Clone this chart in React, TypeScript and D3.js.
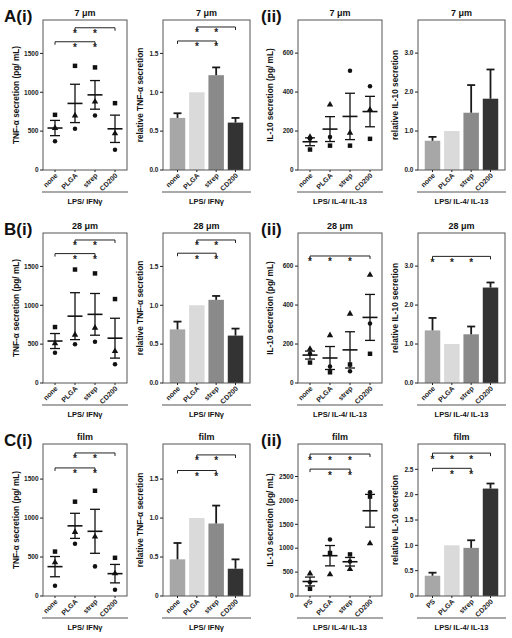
import React from "react";
import * as d3 from "d3";

// ---------- categories / labels ----------
const catsI = ["none", "PLGA", "strep", "CD200"];
const catsFilmII = ["PS", "PLGA", "strep", "CD200"];
const rowTitles = ["7 μm", "28 μm", "film"];
const rowLabels = ["A(i)", "B(i)", "C(i)"];
const yLabels = ["TNF-α secretion (pg/ mL)", "relative TNF-α secretion", "IL-10 secretion (pg/ mL)", "relative IL-10 secretion"];
const groupLabels = ["LPS/ IFNγ", "LPS/ IFNγ", "LPS/ IL-4/ IL-13", "LPS/ IL-4/ IL-13"];

// ---------- TNF-α scatter (pg/mL), three donors ----------
const tnf7Sq = [710, 1340, 1320, 860];
const tnf7Tri = [540, 700, 880, 470];
const tnf7Cir = [370, 530, 700, 260];
const tnf28Sq = [720, 1460, 1410, 1080];
const tnf28Tri = [510, 620, 710, 410];
const tnf28Cir = [390, 500, 530, 240];
const tnfFilmSq = [570, 1210, 1350, 490];
const tnfFilmTri = [430, 820, 760, 290];
const tnfFilmCir = [130, 670, 380, 80];

// ---------- IL-10 scatter (pg/mL) ----------
const il7Sq = [105, 125, 125, 160];
const il7Tri = [170, 335, 190, 310];
const il7Cir = [160, 170, 510, 430];
const il28Sq = [105, 55, 95, 150];
const il28Tri = [175, 245, 355, 555];
const il28Cir = [150, 85, 60, 305];
const ilFilmSq = [150, 900, 870, 2080];
const ilFilmTri = [470, 450, 560, 1100];
const ilFilmCir = [290, 1180, 720, 2170];

// ---------- relative secretion bars ----------
const relTnf7 = [0.67, 1.0, 1.22, 0.61];
const relTnf7Err = [0.06, 0, 0.1, 0.06];
const relTnf28 = [0.69, 1.0, 1.07, 0.61];
const relTnf28Err = [0.1, 0, 0.05, 0.09];
const relTnfFilm = [0.47, 1.0, 0.93, 0.35];
const relTnfFilmErr = [0.21, 0, 0.23, 0.12];
const relIl7 = [0.75, 1.0, 1.47, 1.83];
const relIl7Err = [0.1, 0, 0.71, 0.75];
const relIl28 = [1.35, 1.0, 1.25, 2.45];
const relIl28Err = [0.32, 0, 0.2, 0.13];
const relIlFilm = [0.4, 1.0, 0.95, 2.12];
const relIlFilmErr = [0.06, 0, 0.15, 0.1];

// ---------- axis ticks ----------
const ticksTnf = [0, 500, 1000, 1500];
const ticksRel = [0, 0.5, 1.0, 1.5];
const ticksIl = [0, 200, 400, 600];
const ticksIlFilm = [0, 500, 1000, 1500, 2000, 2500];
const ticksRelIl = [0, 1, 2, 3];
const ticksRelIlFilm = [0, 0.5, 1.0, 1.5, 2.0, 2.5];

// ---------- significance brackets [from, to, level, starred categories] ----------
type Sig = [number, number, number, number[]];
const sigTnf7: Sig[] = [[0, 2, 1650, [1, 2]], [1, 3, 1830, [1, 2]]];
const sigRel7: Sig[] = [[0, 2, 1.66, [1, 2]], [1, 3, 1.84, [1, 2]]];
const sigTnf28: Sig[] = [[0, 2, 1665, [1, 2]], [1, 3, 1840, [1, 2]]];
const sigRel28: Sig[] = [[0, 2, 1.67, [1, 2]], [1, 3, 1.84, [1, 2]]];
const sigIl28: Sig[] = [[0, 3, 652, [0, 1, 2]]];
const sigRelIl28: Sig[] = [[0, 3, 3.25, [0, 1, 2]]];
const sigTnfFilm: Sig[] = [[0, 2, 1643, [1, 2]], [1, 3, 1835, [1, 2]]];
const sigRelFilm: Sig[] = [[0, 2, 1.61, [1, 2]], [1, 3, 1.81, [1, 2]]];
const sigIlFilm: Sig[] = [[0, 3, 2970, [0, 1, 2]], [0, 2, 2655, [1, 2]]];
const sigRelIlFilm: Sig[] = [[0, 3, 2.82, [0, 1, 2]], [0, 2, 2.52, [1, 2]]];

const barColors = ["#a7a7a7", "#dadada", "#8a8a8a", "#333333"];

// ---------- layout ----------
const COLS = [
  { x0: 43, w: 84, lab: 24 },
  { x0: 163, w: 87, lab: 20 },
  { x0: 298, w: 84, lab: 25 },
  { x0: 418, w: 87, lab: 20 },
];
const ROWS = [
  { y0: 20, h: 150 },
  { y0: 233, h: 150 },
  { y0: 444, h: 152 },
];

interface PanelSpec {
  kind: "scatter" | "bar";
  row: number;
  col: number;
  max: number;
  ticks: number[];
  fmt: (v: number) => string;
  cats: string[];
  sig: Sig[];
  sq?: number[];
  tri?: number[];
  cir?: number[];
  vals?: number[];
  errs?: number[];
}

const fInt = (v: number) => d3.format("d")(v);
const f1 = (v: number) => d3.format(".1f")(v);
const f1z = (v: number) => (v === 0 ? "0" : d3.format(".1f")(v));

const panels: PanelSpec[] = [
  { kind: "scatter", row: 0, col: 0, max: 1930, ticks: ticksTnf, fmt: fInt, cats: catsI, sig: sigTnf7, sq: tnf7Sq, tri: tnf7Tri, cir: tnf7Cir },
  { kind: "bar", row: 0, col: 1, max: 1.93, ticks: ticksRel, fmt: f1, cats: catsI, sig: sigRel7, vals: relTnf7, errs: relTnf7Err },
  { kind: "scatter", row: 0, col: 2, max: 770, ticks: ticksIl, fmt: fInt, cats: catsI, sig: [], sq: il7Sq, tri: il7Tri, cir: il7Cir },
  { kind: "bar", row: 0, col: 3, max: 3.85, ticks: ticksRelIl, fmt: f1, cats: catsI, sig: [], vals: relIl7, errs: relIl7Err },
  { kind: "scatter", row: 1, col: 0, max: 1930, ticks: ticksTnf, fmt: fInt, cats: catsI, sig: sigTnf28, sq: tnf28Sq, tri: tnf28Tri, cir: tnf28Cir },
  { kind: "bar", row: 1, col: 1, max: 1.93, ticks: ticksRel, fmt: f1, cats: catsI, sig: sigRel28, vals: relTnf28, errs: relTnf28Err },
  { kind: "scatter", row: 1, col: 2, max: 770, ticks: ticksIl, fmt: fInt, cats: catsI, sig: sigIl28, sq: il28Sq, tri: il28Tri, cir: il28Cir },
  { kind: "bar", row: 1, col: 3, max: 3.85, ticks: ticksRelIl, fmt: f1, cats: catsI, sig: sigRelIl28, vals: relIl28, errs: relIl28Err },
  { kind: "scatter", row: 2, col: 0, max: 1950, ticks: ticksTnf, fmt: fInt, cats: catsI, sig: sigTnfFilm, sq: tnfFilmSq, tri: tnfFilmTri, cir: tnfFilmCir },
  { kind: "bar", row: 2, col: 1, max: 1.95, ticks: ticksRel, fmt: f1z, cats: catsI, sig: sigRelFilm, vals: relTnfFilm, errs: relTnfFilmErr },
  { kind: "scatter", row: 2, col: 2, max: 3180, ticks: ticksIlFilm, fmt: fInt, cats: catsFilmII, sig: sigIlFilm, sq: ilFilmSq, tri: ilFilmTri, cir: ilFilmCir },
  { kind: "bar", row: 2, col: 3, max: 3.0, ticks: ticksRelIlFilm, fmt: f1z, cats: catsFilmII, sig: sigRelIlFilm, vals: relIlFilm, errs: relIlFilmErr },
];

const symSq = d3.symbol().type(d3.symbolSquare).size(20)()!;
const symTri = d3.symbol().type(d3.symbolTriangle).size(18)()!;
const symCir = d3.symbol().type(d3.symbolCircle).size(16)()!;

function Panel({ p }: { p: PanelSpec }) {
  const { x0, w, lab } = COLS[p.col];
  const { y0, h } = ROWS[p.row];
  const y1 = y0 + h;
  const y = d3.scaleLinear().domain([0, p.max]).range([y1, y0]);
  let xc: (c: string) => number;
  let marks: React.ReactNode;

  if (p.kind === "scatter") {
    const x = d3.scalePoint<string>().domain(p.cats).range([x0, x0 + w]).padding(0.6);
    xc = (c) => x(c)!;
    marks = p.cats.map((c, i) => {
      const vals = [p.sq![i], p.tri![i], p.cir![i]];
      const m = d3.mean(vals)!;
      const se = d3.deviation(vals)! / Math.sqrt(vals.length);
      const cx = x(c)!;
      return (
        <g key={c}>
          <path d={symSq} transform={`translate(${cx},${y(p.sq![i])})`} fill="#111" />
          <path d={symTri} transform={`translate(${cx},${y(p.tri![i])})`} fill="#111" />
          <path d={symCir} transform={`translate(${cx},${y(p.cir![i])})`} fill="#111" />
          <line x1={cx - 7.5} x2={cx + 7.5} y1={y(m)} y2={y(m)} stroke="#111" strokeWidth={1.6} />
          <line x1={cx} x2={cx} y1={y(m - se)} y2={y(m + se)} stroke="#111" strokeWidth={1.3} />
          <line x1={cx - 5} x2={cx + 5} y1={y(m - se)} y2={y(m - se)} stroke="#111" strokeWidth={1.3} />
          <line x1={cx - 5} x2={cx + 5} y1={y(m + se)} y2={y(m + se)} stroke="#111" strokeWidth={1.3} />
        </g>
      );
    });
  } else {
    const x = d3.scaleBand<string>().domain(p.cats).range([x0, x0 + w]).paddingInner(0.2).paddingOuter(0.35);
    xc = (c) => x(c)! + x.bandwidth() / 2;
    marks = p.cats.map((c, i) => {
      const v = p.vals![i];
      const e = p.errs![i];
      const cx = xc(c);
      return (
        <g key={c}>
          <rect x={x(c)} y={y(v)} width={x.bandwidth()} height={y1 - y(v)} fill={barColors[i]} />
          {e > 0 && (
            <g stroke="#1a1a1a" strokeWidth={1.8}>
              <line x1={cx} x2={cx} y1={y(v)} y2={y(v + e)} />
              <line x1={cx - 4} x2={cx + 4} y1={y(v + e)} y2={y(v + e)} />
            </g>
          )}
        </g>
      );
    });
  }

  const midX = x0 + w / 2;
  return (
    <g>
      {marks}
      <rect x={x0} y={y0} width={w} height={h} fill="none" stroke="#555" strokeWidth={1} />
      {p.ticks.map((t) => (
        <g key={t}>
          <line x1={x0 - 3} x2={x0} y1={y(t)} y2={y(t)} stroke="#222" strokeWidth={1} />
          <text x={x0 - 4.5} y={y(t)} dy="0.35em" textAnchor="end" fontSize={6.5} fontWeight="bold" fill="#222">
            {p.fmt(t)}
          </text>
        </g>
      ))}
      {p.cats.map((c) => (
        <g key={c}>
          <line x1={xc(c)} x2={xc(c)} y1={y1} y2={y1 + 2} stroke="#222" strokeWidth={1} />
          <text transform={`translate(${xc(c) + 3},${y1 + 6}) rotate(-45)`} textAnchor="end" fontSize={7} fontWeight="bold" fill="#222">
            {c}
          </text>
        </g>
      ))}
      {p.sig.map(([a, b, lv, st], k) => {
        const xa = xc(p.cats[a]);
        const xb = xc(p.cats[b]);
        const yy = y(lv);
        return (
          <g key={k}>
            <path d={`M${xa},${yy + 3}V${yy}H${xb}V${yy + 3}`} fill="none" stroke="#222" strokeWidth={1} />
            {st.map((s) => (
              <text key={s} x={xc(p.cats[s])} y={yy + 9.5} textAnchor="middle" fontSize={10} fontWeight="bold" fill="#222">
                *
              </text>
            ))}
          </g>
        );
      })}
      <text x={midX} y={y0 - 4} textAnchor="middle" fontSize={9} fontWeight="bold" fill="#111">
        {rowTitles[p.row]}
      </text>
      <text transform={`translate(${x0 - lab},${y0 + h / 2}) rotate(-90)`} textAnchor="middle" fontSize={8.3} fontWeight="bold" fill="#111">
        {yLabels[p.col]}
      </text>
      <line x1={x0 - 1} x2={x0 + w + 1} y1={y1 + 22} y2={y1 + 22} stroke="#555" strokeWidth={1.2} />
      <text x={midX} y={y1 + 34} textAnchor="middle" fontSize={7.5} fontWeight="bold" fill="#111">
        {groupLabels[p.col]}
      </text>
    </g>
  );
}

export default function App() {
  return (
    <svg
      width={512}
      height={638}
      style={{ position: "absolute", left: 0, top: 0, background: "#fff" }}
      fontFamily="'Liberation Sans', Arial, sans-serif"
    >
      <rect width={512} height={638} fill="#fff" />
      {ROWS.map((r, i) => (
        <g key={i}>
          <text x={4} y={r.y0 + 2} fontSize={17} fontWeight="bold" fill="#111">
            {rowLabels[i]}
          </text>
          <text x={261} y={r.y0 + 2} fontSize={17} fontWeight="bold" fill="#111">
            (ii)
          </text>
        </g>
      ))}
      {panels.map((p, i) => (
        <Panel key={i} p={p} />
      ))}
    </svg>
  );
}
